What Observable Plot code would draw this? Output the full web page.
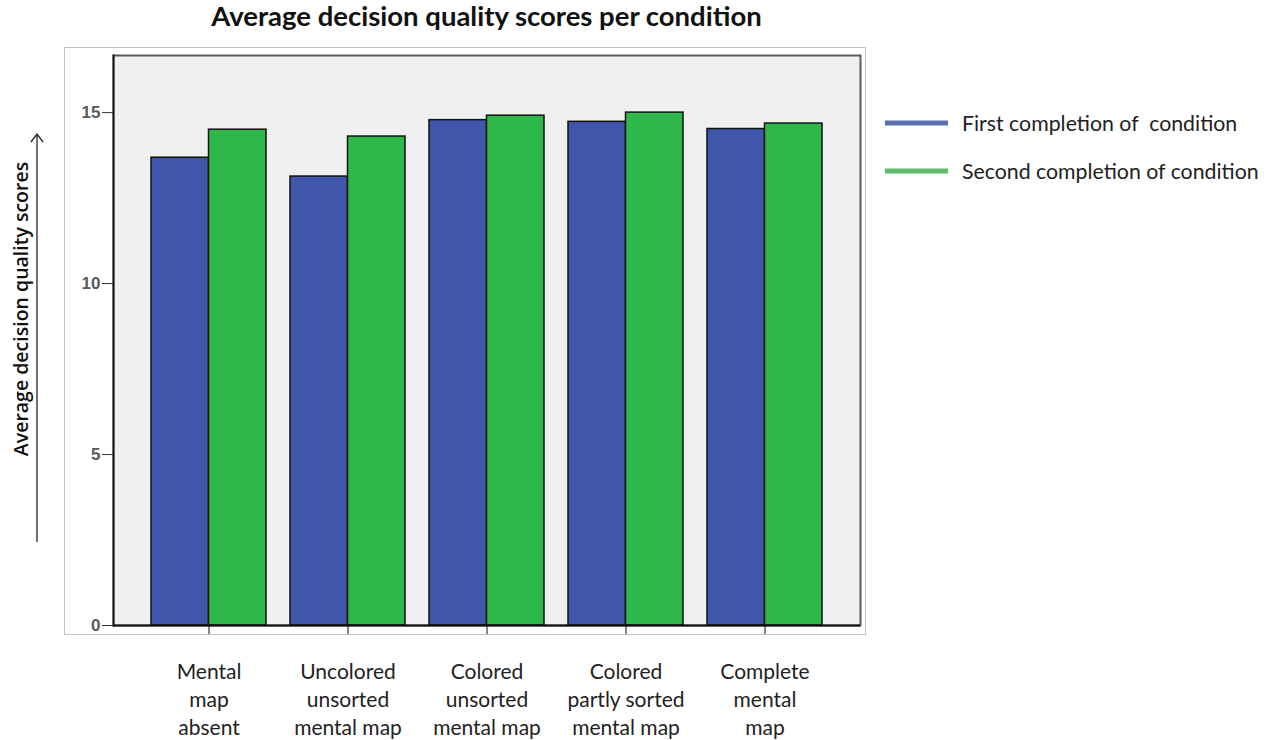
<!DOCTYPE html>
<html>
<head>
<meta charset="utf-8">
<script src="https://cdn.jsdelivr.net/npm/d3@7"></script>
<script src="https://cdn.jsdelivr.net/npm/@observablehq/plot@0.6"></script>
<style>
  body { margin: 0; background: #fff; }
  #page { position: relative; width: 1275px; height: 740px; overflow: hidden; font-family: Lato, "Open Sans", sans-serif; }
  #title { position: absolute; left: 113px; width: 747px; top: -1px; text-align: center; font-weight: 700; font-size: 27.5px; color: #111; }
  #outer { position: absolute; left: 64px; top: 47px; width: 800px; height: 586px; border: 1px solid #c4c4c4; }
  #chart { position: absolute; left: 0; top: 40px; }
  #ylabel { position: absolute; left: 20px; top: 309px; transform: translate(-50%, -50%) rotate(-90deg); white-space: nowrap; font-family: "Open Sans", sans-serif; font-size: 19.5px; font-weight: 600; color: #111; }
  #arrow { position: absolute; left: 0; top: 0; }
  #legend { position: absolute; left: 885px; top: 105px; }
  .item { display: flex; align-items: center; height: 36px; margin-bottom: 12px; }
  .item span { margin-left: 14px; font-size: 21.3px; color: #222; white-space: pre; }
</style>
</head>
<body>
<div id="page">
  <div id="title">Average decision quality scores per condition</div>
  <div id="outer"></div>
  <div id="chart"></div>
  <svg id="arrow" width="60" height="740">
    <line x1="37" y1="542" x2="37" y2="134" stroke="#222" stroke-width="1.3"/>
    <polyline points="31,142 37,134 43,142" fill="none" stroke="#222" stroke-width="1.3"/>
  </svg>
  <div id="ylabel">Average decision quality scores</div>
  <div id="legend"></div>
</div>
<script>
// Conditions (axis labels, line breaks included) and mean scores per completion
const conditions = [
  "Mental\nmap\nabsent",
  "Uncolored\nunsorted\nmental map",
  "Colored\nunsorted\nmental map",
  "Colored\npartly sorted\nmental map",
  "Complete\nmental\nmap"
];
const firstScores = [13.68, 13.13, 14.78, 14.73, 14.52];
const secondScores = [14.50, 14.30, 14.91, 15.00, 14.68];
const seriesNames = ["First completion of  condition", "Second completion of condition"];
const barColors = ["#3f56aa", "#2eb84a"];
const legendColors = ["#5d6fb3", "#5bbb6b"];
const yTicks = [0, 5, 10, 15];

const first = conditions.map((c, i) => ({condition: c, score: firstScores[i]}));
const second = conditions.map((c, i) => ({condition: c, score: secondScores[i]}));

function build(half) {
  return Plot.plot({
    width: 880,
    height: 700,
    marginLeft: 113,
    marginRight: 20,
    marginTop: 15,
    marginBottom: 115,
    style: {background: "transparent", overflow: "visible"},
    x: {domain: conditions, paddingInner: 0.17, paddingOuter: 0.26, label: null},
    y: {domain: [0, 16.67], label: null},
    marks: [
      Plot.frame({fill: "#f0f0f0", stroke: "#5a5a5a", strokeWidth: 2}),
      Plot.barY(first, {x: "condition", y: "score", fill: barColors[0], stroke: "#111", strokeWidth: 1.5, insetRight: half}),
      Plot.barY(second, {x: "condition", y: "score", fill: barColors[1], stroke: "#111", strokeWidth: 1.5, insetLeft: half}),
      Plot.frame({anchor: "left", stroke: "#111", strokeWidth: 1.8}),
      Plot.ruleY([0], {stroke: "#111", strokeWidth: 1.8}),
      Plot.axisY({ticks: yTicks, tickSize: 11, tickPadding: 2, fontSize: 17, fontWeight: "bold",
                  fontFamily: "Liberation Sans, Arial, sans-serif", fill: "#5a5a5a", stroke: "#333", label: null}),
      Plot.axisX({tickSize: 9, tickPadding: 25, fontSize: 21, lineHeight: 1.33,
                  fontFamily: "Lato, sans-serif", fill: "#222", stroke: "#111", label: null})
    ]
  });
}

// First pass gives the band width, second pass splits each band between the two completions
const probe = build(0);
const half = probe.scale("x").bandwidth / 2;
document.getElementById("chart").append(build(half));

const legend = document.getElementById("legend");
seriesNames.forEach((name, i) => {
  const item = document.createElement("div");
  item.className = "item";
  item.innerHTML = `<svg width="63" height="10"><line x1="0" y1="5" x2="63" y2="5" stroke="${legendColors[i]}" stroke-width="5"/></svg><span>${name}</span>`;
  legend.append(item);
});
</script>
</body>
</html>
